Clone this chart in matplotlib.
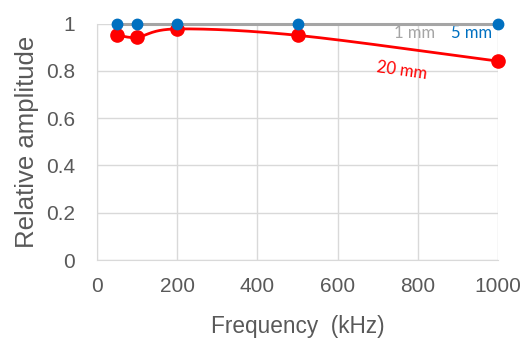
import numpy as np
import matplotlib
matplotlib.use("Agg")
import matplotlib.pyplot as plt

freq = [50, 100, 200, 500, 1000]
amp_1mm = [1.0, 1.0, 1.0, 1.0, 1.0]
amp_5mm = [1.0, 1.0, 1.0, 1.0, 1.0]
amp_20mm = [0.951, 0.942, 0.977, 0.950, 0.841]

x_ticks = [0, 200, 400, 600, 800, 1000]
y_ticks = [0, 0.2, 0.4, 0.6, 0.8, 1.0]
y_ticklabels = ["0", "0.2", "0.4", "0.6", "0.8", "1"]


def smooth(x, y, n=40):
    # Catmull-Rom style smoothing (like Excel's smoothed line)
    x = np.asarray(x, float)
    y = np.asarray(y, float)
    P = np.column_stack([x, y])
    P = np.vstack([P[0] - (P[1] - P[0]), P, P[-1] + (P[-1] - P[-2])])
    out = []
    for i in range(1, len(P) - 2):
        p0, p1, p2, p3 = P[i - 1], P[i], P[i + 1], P[i + 2]
        t = np.linspace(0, 1, n)[:, None]
        c1 = p1 + (p2 - p0) / 6
        c2 = p2 - (p3 - p1) / 6
        pts = ((1 - t) ** 3) * p1 + 3 * ((1 - t) ** 2) * t * c1 + 3 * (1 - t) * t ** 2 * c2 + t ** 3 * p2
        out.append(pts)
    pts = np.vstack(out)
    return pts[:, 0], pts[:, 1]


plt.rcParams['font.family'] = ['Liberation Sans', 'DejaVu Sans']
fig = plt.figure(figsize=(5.28, 3.47), dpi=100)
ax = fig.add_axes([97 / 528, 87 / 347, 401 / 528, 236.5 / 347])

ax.set_xlim(0, 1000)
ax.set_ylim(0, 1)
ax.set_xticks(x_ticks)
ax.set_yticks(y_ticks)
ax.set_yticklabels(y_ticklabels)
ax.grid(True, color="#D9D9D9", linewidth=1)
ax.set_axisbelow(True)
for s in ["top", "right"]:
    ax.spines[s].set_visible(False)
for s in ["left", "bottom"]:
    ax.spines[s].set_color("#D9D9D9")
ax.tick_params(length=0, labelsize=15, colors="#595959")
ax.tick_params(axis="x", pad=12)
ax.tick_params(axis="y", pad=16)

sx, sy = smooth(freq, amp_20mm)
ax.plot(sx, sy, color="#FF0000", linewidth=2, clip_on=False, zorder=3)
ax.plot(freq, amp_20mm, "o", color="#FF0000", markersize=9.5, clip_on=False, zorder=4)

ax.plot(freq, amp_1mm, color="#A5A5A5", linewidth=2.2, clip_on=False, zorder=5)
ax.plot(freq, amp_5mm, "o", color="#0070C0", markersize=7.5, clip_on=False, zorder=6)

ax.set_xlabel("Frequency  (kHz)", fontsize=16.3, color="#595959", labelpad=14)
ax.set_ylabel("Relative amplitude", fontsize=18.5, color="#595959", labelpad=5)

ax.text(793, 0.96, "1 mm", color="#A5A5A5", fontsize=12, family="Lato", ha="center", va="center")
ax.text(935, 0.96, "5 mm", color="#0070C0", fontsize=12, family="Lato", ha="center", va="center")
ax.text(760, 0.803, "20 mm", color="#FF0000", fontsize=12, family="Lato", ha="center", va="center", rotation=-8)

fig.savefig("out.png", dpi=100)
